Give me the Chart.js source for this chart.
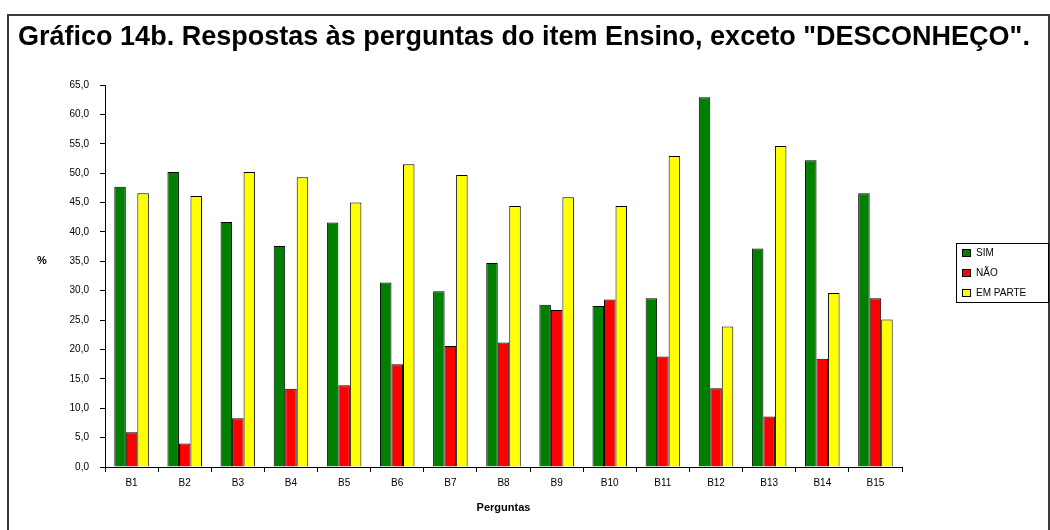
<!DOCTYPE html>
<html>
<head>
<meta charset="utf-8">
<script src="https://cdn.jsdelivr.net/npm/chart.js@4/dist/chart.umd.min.js"></script>
<style>
  html, body { margin: 0; padding: 0; background: #fff; }
  canvas { display: block; }
</style>
</head>
<body>
<canvas id="c" width="1050" height="530"></canvas>
<script>
// Questions of the "Ensino" item
const categories = ['B1', 'B2', 'B3', 'B4', 'B5', 'B6', 'B7', 'B8', 'B9', 'B10', 'B11', 'B12', 'B13', 'B14', 'B15'];
// Share of answers (%), "DESCONHEÇO" excluded
const sim      = [47.7, 50.2, 41.7, 37.6, 41.6, 31.4, 29.9, 34.7, 27.6, 27.4, 28.7, 62.9, 37.2, 52.2, 46.6];
const nao      = [5.9, 4.0, 8.3, 13.3, 13.9, 17.5, 20.6, 21.2, 26.7, 28.5, 18.8, 13.4, 8.6, 18.4, 28.7];
const emParte  = [46.6, 46.1, 50.2, 49.3, 45.0, 51.5, 49.7, 44.4, 45.9, 44.4, 52.9, 23.9, 54.6, 29.6, 25.1];
const seriesNames = ['SIM', 'NÃO', 'EM PARTE'];
const yTicks = { min: 0, max: 65, step: 5 };

const titleText = 'Gráfico 14b. Respostas às perguntas do item Ensino, exceto "DESCONHEÇO".';
const colors = ['#008000', '#ff0000', '#ffff00'];
const FONT = 'Arial, "Liberation Sans", Helvetica, sans-serif';

const decor = {
  id: 'decor',
  afterDraw(chart) {
    const ctx = chart.ctx;
    const area = chart.chartArea;
    ctx.save();

    // outer frame
    ctx.strokeStyle = '#3a3a3a';
    ctx.lineWidth = 2;
    ctx.strokeRect(8, 15, 1041, 540);

    // heading, sized to span the frame width
    let fs = 22;
    ctx.font = 'bold ' + fs + 'px ' + FONT;
    const w = ctx.measureText(titleText).width;
    fs = fs * 1012 / w;
    ctx.font = 'bold ' + fs.toFixed(2) + 'px ' + FONT;
    ctx.fillStyle = '#000';
    ctx.textAlign = 'left';
    ctx.textBaseline = 'alphabetic';
    ctx.fillText(titleText, 18, 45);

    // axis titles
    ctx.font = 'bold 11px ' + FONT;
    ctx.textAlign = 'center';
    ctx.textBaseline = 'middle';
    ctx.fillText('%', 42, chart.scales.y.getPixelForValue(35));
    ctx.fillText('Perguntas', (area.left + area.right) / 2, 508);

    // legend box
    const lx = 956, ly = 243, lw = 93, lh = 60;
    ctx.fillStyle = '#fff';
    ctx.fillRect(lx, ly, lw, lh);
    ctx.strokeStyle = '#000';
    ctx.lineWidth = 1;
    ctx.strokeRect(lx + 0.5, ly + 0.5, lw - 1, lh - 1);
    ctx.font = '10px ' + FONT;
    ctx.textAlign = 'left';
    chart.data.datasets.forEach((ds, i) => {
      const cy = 253 + i * 20;
      ctx.fillStyle = ds.backgroundColor;
      ctx.fillRect(962, cy - 3.5, 9, 7);
      ctx.strokeRect(962.5, cy - 3.5, 8, 7);
      ctx.fillStyle = '#000';
      ctx.fillText(ds.label, 976, cy);
    });
    ctx.restore();
  }
};

const fmt = v => Number(v).toFixed(1).replace('.', ',');

new Chart(document.getElementById('c'), {
  type: 'bar',
  data: {
    labels: categories,
    datasets: [sim, nao, emParte].map((d, i) => ({
      label: seriesNames[i],
      data: d,
      backgroundColor: colors[i],
      borderColor: '#000',
      borderWidth: 1,
      categoryPercentage: 0.65,
      barPercentage: 1.0
    }))
  },
  options: {
    responsive: false,
    animation: false,
    devicePixelRatio: 1,
    layout: { padding: { top: 85, right: 148, bottom: 0, left: 0 } },
    plugins: {
      legend: { display: false },
      title: { display: false },
      tooltip: { enabled: false }
    },
    scales: {
      x: {
        offset: true,
        grid: { offset: true, drawOnChartArea: false, drawTicks: true, tickLength: 5, color: '#000' },
        border: { color: '#000', width: 1 },
        ticks: { color: '#000', font: { size: 10, family: FONT }, padding: 5, maxRotation: 0 },
        afterFit(s) { s.height = 63; }
      },
      y: {
        min: yTicks.min,
        max: yTicks.max,
        grid: { drawOnChartArea: false, drawTicks: true, tickLength: 5, color: '#000' },
        border: { color: '#000', width: 1 },
        ticks: { stepSize: yTicks.step, color: '#000', font: { size: 10, family: FONT }, padding: 11, callback: fmt },
        afterFit(s) { s.width = 105; }
      }
    }
  },
  plugins: [decor]
});
</script>
</body>
</html>
